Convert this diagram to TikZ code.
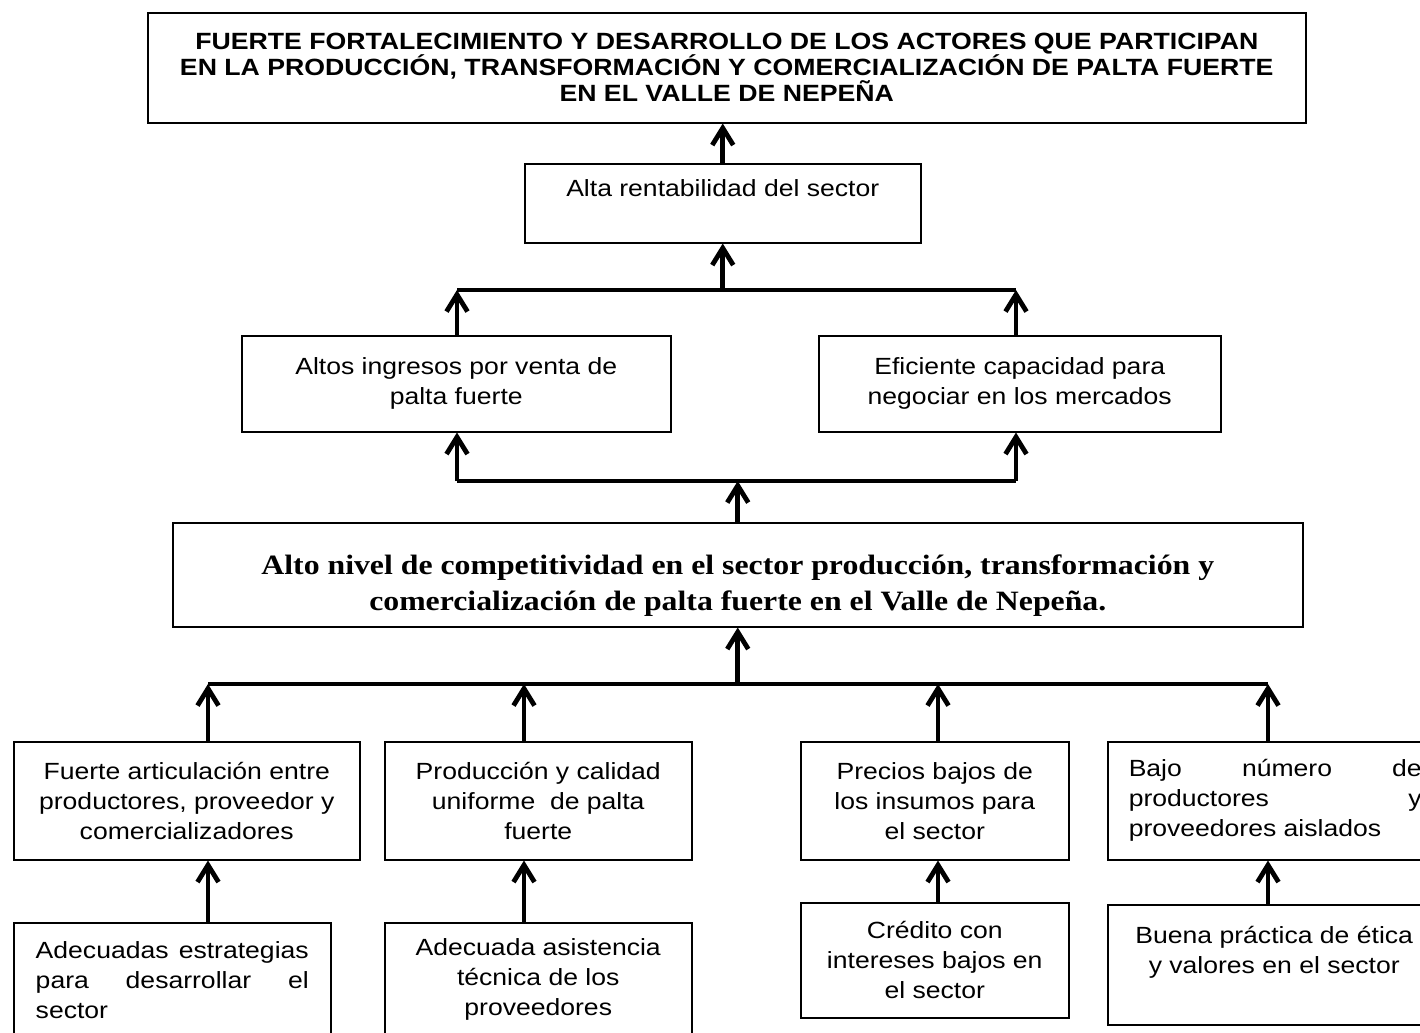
\documentclass[tikz,border=0pt]{standalone}
\usepackage{fontspec}
\setmainfont{Liberation Sans}[FakeStretch=1.135]
\newfontfamily\serifnegra{Liberation Serif}[FakeStretch=1.135]
\usepackage{tikz}
\usetikzlibrary{arrows.meta, positioning}
\tikzset{
    caja/.style={draw, line width=0.75pt, inner sep=0pt, align=center, anchor=north west, font=\fontsize{11.7}{15}\selectfont},
    cajaj/.style={caja, align=justify, inner xsep=11pt},
    titulo/.style={caja, font=\bfseries\fontsize{11.75}{13}\selectfont},
    central/.style={caja, font=\serifnegra\bfseries\fontsize{14}{18}\selectfont},
    flecha/.style={line width=2.4pt, -{Straight Barb[length=8.5pt,width=10.5pt]}},
    barra/.style={line width=2.2pt},
}

\begin{document}
\begin{tikzpicture}[x=0.5pt, y=-0.5pt]
\clip (0,0) rectangle (1420,1033);
% Fin
\node[titulo, minimum width=579pt, minimum height=55pt] (meta) at (147,12) {FUERTE FORTALECIMIENTO Y DESARROLLO DE LOS ACTORES QUE PARTICIPAN\\ EN LA PRODUCCIÓN, TRANSFORMACIÓN Y COMERCIALIZACIÓN DE PALTA FUERTE\\ EN EL VALLE DE NEPEÑA};
\node[caja, minimum width=198pt, minimum height=39.5pt] (rent) at (524,163) {Alta rentabilidad del sector\\ \mbox{}};
% Fines directos
\node[caja, minimum width=214.5pt, minimum height=48pt] (ing) at (241,335) {Altos ingresos por venta de\\ palta fuerte};
\node[caja, minimum width=201pt, minimum height=48pt] (cap) at (818,335) {Eficiente capacidad para\\ negociar en los mercados};
% Objetivo central
\node[central, minimum width=565pt, minimum height=52pt] (comp) at (172,522) {\rule{0pt}{20.5pt}Alto nivel de competitividad en el sector producción, transformación y\\ comercialización de palta fuerte en el Valle de Nepeña.};
% Medios
\node[caja, minimum width=173pt, minimum height=59pt] (c1) at (13,741) {Fuerte articulación entre\\ productores, proveedor y\\ comercializadores};
\node[caja, minimum width=153.5pt, minimum height=59pt] (c2) at (384,741) {Producción y calidad\\ uniforme\ \ de palta\\ fuerte};
\node[caja, minimum width=134pt, minimum height=59pt] (c3) at (800,741) {Precios bajos de\\ los insumos para\\ el sector};
\node[cajaj, text width=146.5pt, inner xsep=10.5pt, minimum height=59pt] (c4) at (1107,741) {Bajo número de\linebreak productores y\linebreak proveedores aislados};
% Medios fundamentales
\node[cajaj, text width=136.5pt, minimum height=57pt] (d1) at (13,922) {Adecuadas estrategias\linebreak para desarrollar el\linebreak sector};
\node[caja, minimum width=153.5pt, minimum height=57pt] (d2) at (384,922) {Adecuada asistencia\\ técnica de los\\ proveedores};
\node[caja, minimum width=134pt, minimum height=57.5pt] (d3) at (800,902) {Crédito con\\ intereses bajos en\\ el sector};
\node[caja, minimum width=166.5pt, minimum height=60pt] (d4) at (1107,904) {Buena práctica de ética\\ y valores en el sector\\ \mbox{}};
% Conectores
\coordinate (s1) at (457,290); \coordinate (s2) at (1016,290);
\coordinate (m1) at (457,481); \coordinate (m2) at (1016,481);
\coordinate (i1) at (208,684); \coordinate (i2) at (524,684);
\coordinate (i3) at (938,684); \coordinate (i4) at (1268,684);
\draw[flecha] (rent.north) -- (rent.north |- meta.south);
\draw[barra] (s1) -- (s2);
\draw[flecha] (rent.south |- s1) -- (rent.south);
\draw[flecha] (s1 |- ing.north) -- (s1);
\draw[flecha] (s2 |- cap.north) -- (s2);
\draw[barra] (m1) -- (m2);
\draw[flecha] (m1) -- (m1 |- ing.south);
\draw[flecha] (m2) -- (m2 |- cap.south);
\draw[flecha] (comp.north) -- (comp.north |- m1);
\draw[barra] (i1) -- (i4);
\draw[flecha] (comp.south |- i1) -- (comp.south);
\foreach \n in {1,...,4} {
    \draw[flecha] (i\n |- c\n.north) -- (i\n);
    \draw[flecha] (i\n |- d\n.north) -- (i\n |- c\n.south);
}
\end{tikzpicture}
\end{document}
